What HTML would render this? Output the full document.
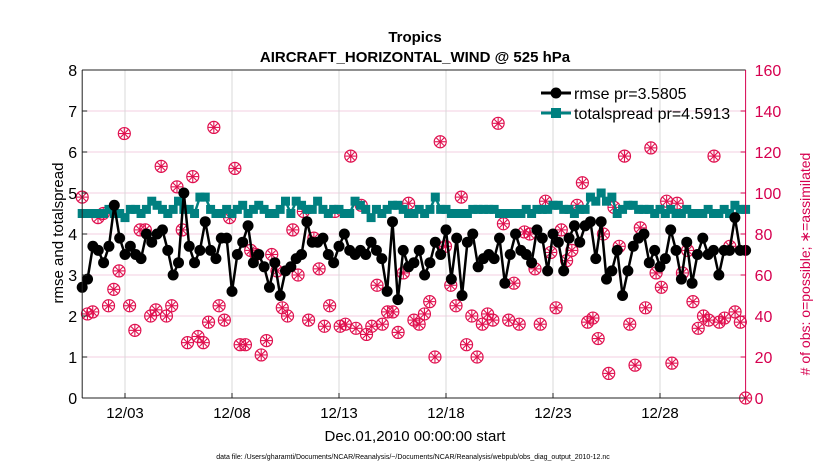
<!DOCTYPE html>
<html><head><meta charset="utf-8"><style>
body{margin:0;background:#fff;width:830px;height:470px;overflow:hidden;font-family:"Liberation Sans",sans-serif}
</style></head><body>
<svg id="chart" width="830" height="470" xmlns="http://www.w3.org/2000/svg" font-family="Liberation Sans, sans-serif">
<rect x="0" y="0" width="830" height="470" fill="#fff"/>
<g id="grid"></g>
<g id="obs"></g>
<g id="spread"></g>
<g id="rmse"></g>
<g id="axes"></g>
<text x="415" y="42" text-anchor="middle" font-size="15" font-weight="bold">Tropics</text>
<text x="415" y="62" text-anchor="middle" font-size="15" font-weight="bold">AIRCRAFT_HORIZONTAL_WIND @ 525 hPa</text>
<text x="415" y="441" text-anchor="middle" font-size="15">Dec.01,2010 00:00:00 start</text>
<text x="413" y="459" text-anchor="middle" font-size="7">data file: /Users/gharamti/Documents/NCAR/Reanalysis/~/Documents/NCAR/Reanalysis/webpub/obs_diag_output_2010-12.nc</text>
<text transform="translate(63,233) rotate(-90)" text-anchor="middle" font-size="15">rmse and totalspread</text>
<text transform="translate(810,264) rotate(-90)" text-anchor="middle" font-size="14" fill="#d6004f"># of obs: o=possible; ∗=assimilated</text>
<g>
<line x1="541" y1="93" x2="571" y2="93" stroke="#000" stroke-width="3"/><circle cx="556" cy="93" r="5.5" fill="#000"/>
<text x="574" y="99" font-size="16">rmse pr=3.5805</text>
<line x1="541" y1="113" x2="571" y2="113" stroke="#008080" stroke-width="3"/><rect x="551" y="108" width="10" height="10" fill="#008080"/>
<text x="574" y="119" font-size="16">totalspread pr=4.5913</text>
</g>
</svg>
<script>
const rmseVals=[2.7,2.9,3.7,3.6,3.3,3.7,4.7,3.9,3.5,3.7,3.5,3.4,4.0,3.8,4.0,4.1,3.6,3.0,3.3,5.0,3.7,3.3,3.6,4.3,3.6,3.4,3.9,3.9,2.6,3.5,3.8,4.2,3.3,3.5,3.2,2.7,3.3,2.5,3.1,3.2,3.4,3.5,4.3,3.8,3.8,3.9,3.5,3.3,3.7,4.0,3.6,3.5,3.6,3.5,3.8,3.6,3.4,2.6,4.3,2.4,3.6,3.2,3.3,3.6,3.0,3.3,3.8,3.5,4.1,2.9,3.9,2.5,3.8,4.0,3.2,3.4,3.5,3.4,3.9,2.8,3.5,4.0,3.6,3.5,3.3,4.1,3.9,3.1,4.0,3.8,3.1,3.9,4.2,3.8,4.2,4.3,3.4,4.3,2.9,3.1,3.6,2.5,3.1,3.7,3.9,4.0,3.3,3.6,3.2,3.4,4.1,3.6,2.9,3.8,2.8,3.5,3.9,3.5,3.6,3.0,3.6,3.6,4.4,3.6,3.6];
const spreadVals=[4.5,4.5,4.5,4.5,4.5,4.6,4.5,4.5,4.4,4.6,4.6,4.5,4.6,4.8,4.7,4.6,4.5,4.6,4.8,4.6,4.6,4.5,4.9,4.9,4.6,4.5,4.5,4.6,4.5,4.6,4.7,4.5,4.6,4.7,4.6,4.5,4.5,4.6,4.8,4.5,4.8,4.7,4.6,4.6,4.8,4.6,4.5,4.6,4.6,4.5,4.5,4.8,4.7,4.6,4.4,4.6,4.5,4.6,4.7,4.7,4.6,4.5,4.5,4.6,4.5,4.6,4.9,4.6,4.6,4.5,4.5,4.5,4.5,4.6,4.6,4.6,4.6,4.6,4.5,4.5,4.5,4.5,4.5,4.6,4.5,4.6,4.6,4.6,4.7,4.7,4.6,4.6,4.5,4.6,4.6,4.9,4.8,5.0,4.8,4.9,4.5,4.6,4.7,4.7,4.6,4.6,4.6,4.5,4.6,4.5,4.6,4.5,4.5,4.6,4.5,4.5,4.5,4.6,4.5,4.5,4.6,4.5,4.7,4.6,4.6];
const obsPossible=[98,41,42,88,90,45,53,62,129,45,33,82,82,40,43,113,40,45,103,82,27,108,30,27,37,132,45,38,88,112,26,26,72,70,21,28,70,62,44,40,82,60,91,38,78,63,35,45,91,35,36,118,34,94,31,35,55,36,42,42,32,61,95,38,36,41,47,20,125,74,55,45,98,26,40,20,36,41,38,134,85,38,56,36,81,80,63,36,96,71,44,82,67,72,94,105,37,39,29,80,12,93,74,118,36,16,83,44,122,61,54,96,17,95,61,72,47,34,40,38,118,37,39,74,42,37,0];
const obsAssim=obsPossible;
const leftTicks=[0,1,2,3,4,5,6,7,8];
const rightTicks=[0,20,40,60,80,100,120,140,160];
const dateLabels=["12/03","12/08","12/13","12/18","12/23","12/28"];
const dateDays=[2,7,12,17,22,27];
const NS="http://www.w3.org/2000/svg";
const X0=82.2,X1=745.6,Y0=398,Y1=70;
const xDay=d=>X0+(X1-X0)*d/31;
const yL=v=>Y0-(Y0-Y1)*v/8;
const yR=v=>Y0-(Y0-Y1)*v/160;
function mk(tag,at,parent){const e=document.createElementNS(NS,tag);for(const k in at)e.setAttribute(k,at[k]);parent.appendChild(e);return e;}
const grid=document.getElementById('grid'),axes=document.getElementById('axes');
leftTicks.forEach(v=>{
 const l=mk('line',{x1:X0,x2:X1,y1:yL(v),y2:yL(v),stroke:'#f3cfe0','stroke-width':1},grid);
 
 
 const t=mk('text',{x:X0-5,y:yL(v)+6,'text-anchor':'end','font-size':16},axes);t.textContent=v;
 
 
 mk('line',{x1:X0,x2:X0+5,y1:yL(v),y2:yL(v),stroke:'#222'},axes);
});
rightTicks.forEach(v=>{
 const t=mk('text',{x:X1+9,y:yR(v)+6,'font-size':16,fill:'#d6004f'},axes);t.textContent=v;
 
 
 mk('line',{x1:X1-5,x2:X1,y1:yR(v),y2:yR(v),stroke:'#d6004f'},axes);
});
dateDays.forEach((d,i)=>{
 const l=mk('line',{x1:xDay(d),x2:xDay(d),y1:Y1,y2:Y0,stroke:'#d8d8d8'},grid);
 
 
 mk('line',{x1:xDay(d),x2:xDay(d),y1:Y0-5,y2:Y0,stroke:'#222'},axes);
 const t=mk('text',{x:xDay(d),y:Y0+20,'text-anchor':'middle','font-size':15},axes);t.textContent=dateLabels[i];
 
 
});
mk('line',{x1:X0,x2:X0,y1:Y1,y2:Y0,stroke:'#222','stroke-width':1},axes);
mk('line',{x1:X0,x2:X1,y1:Y0,y2:Y0,stroke:'#222','stroke-width':1},axes);
mk('line',{x1:X0,x2:X1,y1:Y1,y2:Y1,stroke:'#222','stroke-width':1},axes);
mk('line',{x1:X1,x2:X1,y1:Y1,y2:Y0,stroke:'#d6004f','stroke-width':1},axes);
const dx=(n,i)=>xDay(31*i/(n-1));
const og=document.getElementById('obs');
obsPossible.forEach((v,i)=>{
 const cx=dx(obsPossible.length,i),cy=yR(v);
 const c=mk('circle',{cx:cx,cy:cy,r:6,fill:'none',stroke:'#e0104f','stroke-width':1.2},og);
 
 
});
obsAssim.forEach((v,i)=>{
 const cx=dx(obsAssim.length,i),cy=yR(v);
 const g=mk('g',{stroke:'#e0104f','stroke-width':1.1},og);
 
 
 [0,45,90,135].forEach(a=>{const r=a*Math.PI/180;mk('line',{x1:cx-5.5*Math.cos(r),y1:cy-5.5*Math.sin(r),x2:cx+5.5*Math.cos(r),y2:cy+5.5*Math.sin(r)},g);});
});
const sg=document.getElementById('spread');
const sp=mk('polyline',{points:spreadVals.map((v,i)=>dx(spreadVals.length,i)+','+yL(v)).join(' '),fill:'none',stroke:'#008080','stroke-width':2.5},sg);


spreadVals.forEach((v,i)=>{
 const r=mk('rect',{x:dx(spreadVals.length,i)-4.5,y:yL(v)-4.5,width:9,height:9,fill:'#008080'},sg);
 
 
});
const rg=document.getElementById('rmse');
const rl=mk('polyline',{points:rmseVals.map((v,i)=>dx(rmseVals.length,i)+','+yL(v)).join(' '),fill:'none',stroke:'#000','stroke-width':2.5},rg);


rmseVals.forEach((v,i)=>{
 const c=mk('circle',{cx:dx(rmseVals.length,i),cy:yL(v),r:5.5,fill:'#000'},rg);
 
 
});
</script>
</body></html>
